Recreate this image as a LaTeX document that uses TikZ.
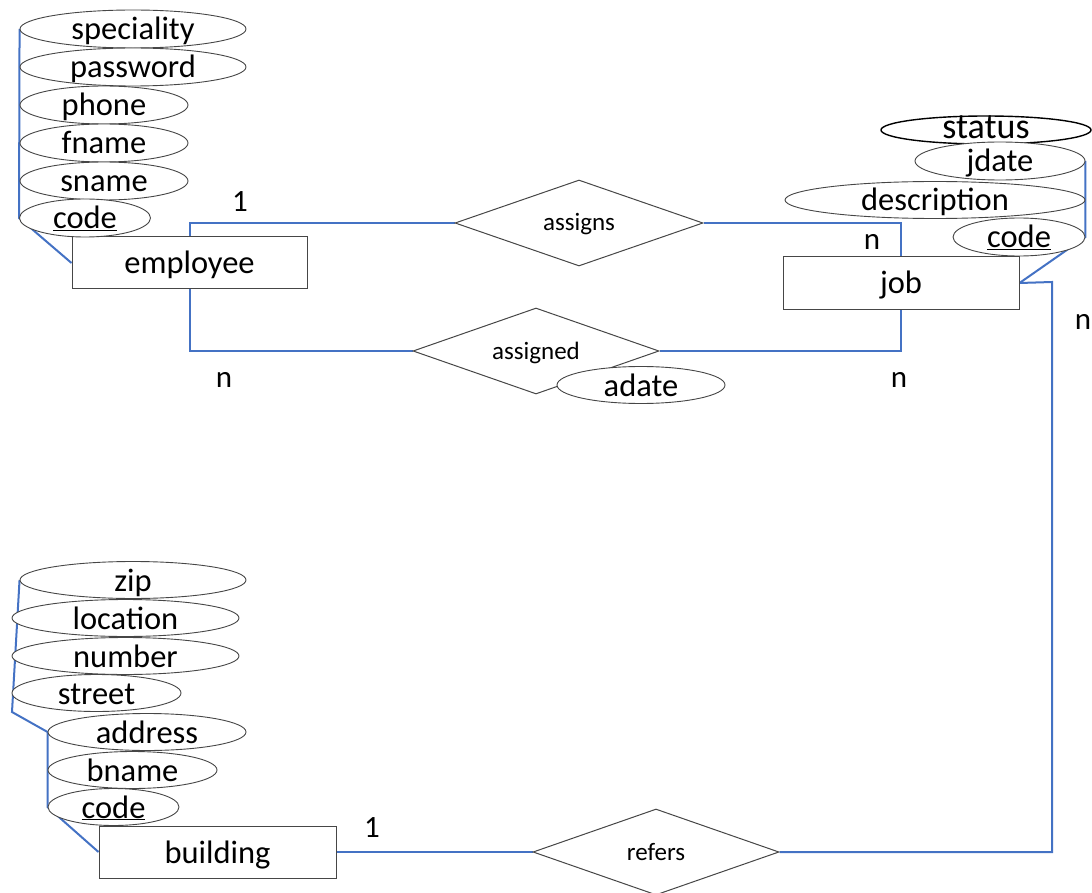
\documentclass[tikz,border=0pt]{standalone}
\usepackage{fontspec}
\setmainfont{Carlito}
\usetikzlibrary{shapes.geometric,backgrounds}
\definecolor{eblue}{RGB}{68,114,196}
\definecolor{egray}{RGB}{70,70,70}
\begin{document}
\begin{tikzpicture}[x=1pt,y=-1pt,
 sz/.style 2 args={minimum width=#1pt,minimum height=#2pt},
 attr/.style={ellipse,draw=egray,line width=0.9pt,fill=white,inner sep=0pt,font=\fontsize{32.5}{32.5}\selectfont,text height=22pt,text depth=0pt},
 ent/.style={rectangle,draw=egray,line width=1pt,fill=white,inner sep=0pt,font=\fontsize{32.5}{32.5}\selectfont,text height=22pt,text depth=0pt},
 rel/.style={diamond,aspect=2.9,draw=egray,line width=1pt,fill=white,inner sep=0pt,font=\fontsize{25}{25}\selectfont,text height=16pt,text depth=0pt},
 lbl/.style={font=\fontsize{31}{31}\selectfont,inner sep=0pt},
 link/.style={draw=eblue,line width=2pt}]
\useasboundingbox (0,0) rectangle (1092,893);

% employee
\node[ent,sz={235}{52}] (employee) at (189.5,263) {employee};
\node[attr,sz={226}{38}] (espec) at (133,29) {speciality};
\node[attr,sz={226}{38}] (epass) at (133,67) {password};
\node[attr,sz={168}{38}] (ephone) at (104,105) {phone};
\node[attr,sz={168}{38}] (efname) at (104,143) {fname};
\node[attr,sz={168}{38}] (esname) at (104,181) {sname};
\node[attr,sz={131}{38}] (ecode) at (85,218) {\underline{code}};

% job
\node[ent,sz={236}{52}] (job) at (901,283) {job};
\node[attr,sz={210}{28},draw=black,line width=1.4pt,font=\fontsize{36}{36}\selectfont,text height=18pt,text depth=0pt] (jstatus) at (986,130) {status};
\node[attr,sz={170}{38}] (jdate) at (1000,161) {jdate};
\node[attr,sz={300}{37}] (jdesc) at (935,200) {description};
\node[attr,sz={132}{38}] (jcode) at (1019,237) {\underline{code}};

% relationships
\node[rel,sz={248}{86}] (assigns) at (579,223) {assigns};
\node[rel,sz={246}{86}] (assigned) at (536,351) {assigned};
\node[attr,sz={168}{37}] (adate) at (641,385) {adate};
\node[rel,sz={246}{86}] (refers) at (656,852) {refers};

% building
\node[ent,sz={237}{52}] (building) at (217.5,852) {building};
\node[attr,sz={226}{37}] (bzip) at (133,580) {zip};
\node[attr,sz={227}{37}] (bloc) at (125.5,618) {location};
\node[attr,sz={227}{37}] (bnum) at (125.5,656) {number};
\node[attr,sz={169}{37}] (bstreet) at (96.5,693) {street};
\node[attr,sz={198}{37}] (baddr) at (147,732) {address};
\node[attr,sz={169}{37}] (bname) at (132.5,770) {bname};
\node[attr,sz={131}{37}] (bcode) at (113.5,807) {\underline{code}};

% cardinalities
\node[lbl] (c1) at (240,202) {1};
\node[lbl] (c2) at (872,242) {n};
\node[lbl] (c3) at (224,380) {n};
\node[lbl] (c4) at (899,380) {n};
\node[lbl] (c5) at (1083,322) {n};
\node[lbl] (c6) at (372,828) {1};

\coordinate (jr) at (1052,282);
\coordinate (bk) at (12,712);

\begin{scope}[on background layer]
\draw[link] (employee.north) |- (assigns.west);
\draw[link] (assigns.east) -| (job.north);
\draw[link] (employee.south) |- (assigned.west);
\draw[link] (assigned.east) -| (job.south);
\draw[link] (job.east) -- (jr) |- (refers.east);
\draw[link] (building.east) -- (refers.west);
\draw[link] (espec.west) -- (ecode.west) -- (employee.west);
\draw[link] (jdate.east) -- (jcode.east) -- (job.east);
\draw[link] (bzip.west) -- (bk) -- (baddr.west) -- (bcode.west) -- (building.west);
\end{scope}
\end{tikzpicture}
\end{document}
